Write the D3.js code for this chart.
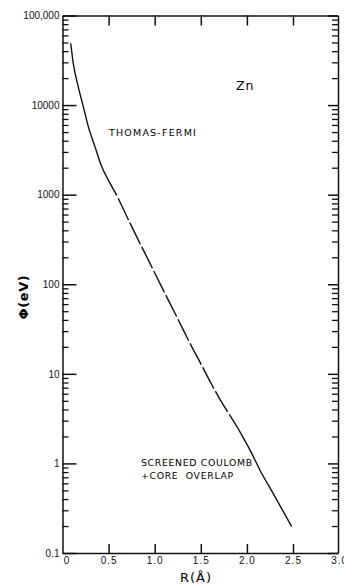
<!DOCTYPE html>
<html>
<head>
<meta charset="utf-8">
<script src="https://cdn.jsdelivr.net/npm/d3@7"></script>
<style>
  html, body { margin: 0; padding: 0; background: #fff; }
  svg { display: block; font-family: "DejaVu Sans", sans-serif; }
  .axis text { fill: #111; font-size: 10px; }
</style>
</head>
<body>
<svg id="chart" width="344" height="584"></svg>
<script>
// Zn interatomic potential Φ(R)
const tfR = [0.089, 0.117, 0.171, 0.226, 0.280, 0.352, 0.425, 0.515, 0.59];
const tfPhi = [49000, 29200, 16000, 9600, 5740, 3440, 2060, 1345, 980];

const midR = [0.59, 0.768, 0.949, 1.093, 1.239, 1.383, 1.527, 1.618, 1.708, 1.852, 1.90];
const midPhi = [980, 404, 171, 86, 43.4, 21.9, 11.5, 7.6, 5.2, 3.0, 2.5];

const scR = [1.90, 1.961, 2.034, 2.142, 2.286, 2.486];
const scPhi = [2.5, 1.93, 1.41, 0.84, 0.46, 0.197];

const xTicks = [0, 0.5, 1.0, 1.5, 2.0, 2.5, 3.0];
const xTickLabels = ['0', '0.5', '1.0', '1.5', '2.0', '2.5', '3.0'];
const yTicks = [0.1, 1, 10, 100, 1000, 10000, 100000];
const yTickLabels = ['0.1', '1', '10', '100', '1000', '10000', '100,000'];

const svg = d3.select('#chart');
const plot = { left: 62.5, right: 338, top: 15.5, bottom: 553 };

const x = d3.scaleLinear().domain([0, 3]).range([plot.left, plot.left + 3 * 92.2]);
const y = d3.scaleLog().domain([0.1, 100000]).range([plot.bottom, plot.top]);
const xFrame = x.copy().domain([0, (plot.right - plot.left) / 92.2]).range([plot.left, plot.right]);

const minorY = y.ticks().filter(v => !yTicks.includes(v));

// tick <line>s from the axis are swapped for equivalent <path>s
function styleAxis(g, w, keepDomain) {
  if (keepDomain) g.select('.domain').attr('stroke', '#111').attr('stroke-width', 1.5);
  else g.select('.domain').remove();
  g.selectAll('.tick line').each(function () {
    const l = d3.select(this);
    const x2 = +(l.attr('x2') || 0), y2 = +(l.attr('y2') || 0);
    d3.select(this.parentNode).insert('path', 'line')
      .attr('class', 'tick-mark')
      .attr('d', `M0,0L${x2},${y2}`)
      .attr('fill', 'none')
      .attr('stroke', '#111')
      .attr('stroke-width', w);
    l.remove();
  });
}

// left
svg.append('g').attr('class', 'axis').attr('transform', `translate(${plot.left},0)`)
  .call(d3.axisLeft(y).tickValues(yTicks).tickSizeInner(-14).tickSizeOuter(0).tickPadding(3)
    .tickFormat((d, i) => yTickLabels[i]))
  .call(g => styleAxis(g, 1.5, true));
svg.append('g').attr('class', 'axis').attr('transform', `translate(${plot.left},0)`)
  .call(d3.axisLeft(y).tickValues(minorY).tickSize(-6).tickFormat(() => ''))
  .call(g => styleAxis(g, 1.3, false));

// right
svg.append('g').attr('class', 'axis').attr('transform', `translate(${plot.right},0)`)
  .call(d3.axisRight(y).tickValues(yTicks).tickSizeInner(-10).tickSizeOuter(0).tickFormat(() => ''))
  .call(g => styleAxis(g, 1.5, true));
svg.append('g').attr('class', 'axis').attr('transform', `translate(${plot.right},0)`)
  .call(d3.axisRight(y).tickValues(minorY).tickSize(-6).tickFormat(() => ''))
  .call(g => styleAxis(g, 1.3, false));

// bottom
svg.append('g').attr('class', 'axis').attr('transform', `translate(0,${plot.bottom})`)
  .call(d3.axisBottom(x).tickValues(xTicks).tickSize(-9).tickPadding(4)
    .tickFormat((d, i) => xTickLabels[i]))
  .call(g => styleAxis(g, 1.5, false))
  .call(g => g.selectAll('.tick-mark').filter(d => d === 0 || d === 3).remove())
  .call(g => g.selectAll('.tick text').attr('dx', d => d === 0 ? 4 : 0).attr('letter-spacing', 1));
svg.append('g').attr('class', 'axis').attr('transform', `translate(0,${plot.bottom})`)
  .call(d3.axisBottom(xFrame).tickValues([]).tickSizeOuter(0))
  .call(g => styleAxis(g, 1.5, true));

// top
svg.append('g').attr('class', 'axis').attr('transform', `translate(0,${plot.top})`)
  .call(d3.axisTop(xFrame).tickValues(xTicks.slice(1, 6)).tickSizeInner(-10).tickSizeOuter(0)
    .tickFormat(() => ''))
  .call(g => styleAxis(g, 1.5, true));

// curves: Thomas-Fermi (solid), interpolation (dashed), screened Coulomb (solid)
const lineGen = d3.line().x(d => x(d[0])).y(d => y(d[1])).curve(d3.curveMonotoneX);
const curves = [
  { r: tfR, p: tfPhi, dash: null },
  { r: midR, p: midPhi, dash: '24,3' },
  { r: scR, p: scPhi, dash: null }
];
curves.forEach(c => {
  const p = svg.append('path')
    .datum(d3.zip(c.r, c.p))
    .attr('d', lineGen)
    .attr('fill', 'none')
    .attr('stroke', '#111')
    .attr('stroke-width', 1.4);
  if (c.dash) p.attr('stroke-dasharray', c.dash).attr('stroke-dashoffset', 24);
});

// labels
svg.append('text').attr('x', 236).attr('y', 90).attr('font-size', 12.5)
  .attr('letter-spacing', 1).text('Zn');
svg.append('text').attr('x', 109).attr('y', 135.5).attr('font-size', 9.5)
  .attr('letter-spacing', 1.2).text('THOMAS-FERMI');
svg.append('text').attr('x', 141).attr('y', 465.5).attr('font-size', 9.3)
  .attr('letter-spacing', 0.7).text('SCREENED COULOMB');
svg.append('text').attr('x', 141).attr('y', 478.5).attr('font-size', 9.3)
  .attr('letter-spacing', 0.7).style('white-space', 'pre').text('+CORE  OVERLAP');

svg.append('text').attr('x', 196).attr('y', 582).attr('font-size', 13)
  .attr('text-anchor', 'middle').attr('letter-spacing', 1).text('R(Å)');
svg.append('text').attr('transform', 'translate(28,297) rotate(-90)')
  .attr('font-size', 13).attr('font-weight', 'bold')
  .attr('text-anchor', 'middle').attr('letter-spacing', 0.6).text('Φ(eV)');
</script>
</body>
</html>
